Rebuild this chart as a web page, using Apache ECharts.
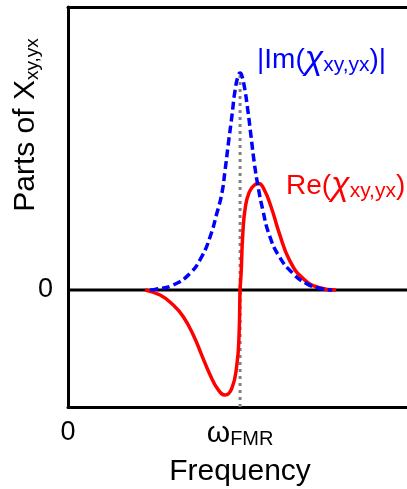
<!DOCTYPE html>
<html>
<head>
<meta charset="utf-8">
<script src="https://cdn.jsdelivr.net/npm/echarts@6/dist/echarts.min.js"></script>
<style>
html,body{margin:0;padding:0;background:#fff;}
#chart{width:407px;height:489px;}
</style>
</head>
<body>
<div id="chart"></div>
<script>
// Frequency axis: 0 .. 1.97 (omega_FMR = 1); value axis: zero line at 0
const xTickValues = [0, 1];
const xTickLabels = ['0', '{w|ω}{s|FMR}'];
const yTickValues = [0];
const yTickLabels = ['0'];

// |Im(chi)| (blue dashed)
const imX = [0.477, 0.506, 0.612, 0.709, 0.777, 0.826, 0.865, 0.894, 0.913, 0.932, 0.952, 0.971, 0.990, 1.000, 1.009, 1.025, 1.045, 1.064, 1.083, 1.103, 1.132, 1.170, 1.228, 1.306, 1.384, 1.461, 1.535];
const imY = [0, 0.006, 0.043, 0.143, 0.285, 0.456, 0.656, 0.826, 1.026, 1.254, 1.481, 1.709, 1.838, 1.855, 1.838, 1.738, 1.538, 1.310, 1.083, 0.897, 0.684, 0.470, 0.285, 0.143, 0.057, 0.015, 0];

// Re(chi) (red solid)
const reX = [0.448, 0.535, 0.612, 0.670, 0.728, 0.777, 0.826, 0.874, 0.913, 0.952, 0.981, 0.994, 1.000, 1.006, 1.016, 1.031, 1.054, 1.083, 1.108, 1.141, 1.180, 1.228, 1.287, 1.365, 1.461, 1.558];
const reY = [0, -0.043, -0.128, -0.228, -0.385, -0.556, -0.726, -0.855, -0.897, -0.840, -0.641, -0.385, 0, 0.143, 0.485, 0.712, 0.840, 0.897, 0.910, 0.855, 0.712, 0.485, 0.256, 0.100, 0.020, 0];

// omega_FMR marker line and zero line
const markerX = [1, 1];
const markerY = [-1, 1.855];
const zeroX = [0, 1.97];
const zeroY = [0, 0];

const zip = (a, b) => a.map((v, i) => [v, b[i]]);
const FONT = 'Liberation Sans, Arial, Helvetica, sans-serif';

const chart = echarts.init(document.getElementById('chart'), null, {renderer: 'canvas'});
chart.setOption({
  animation: false,
  backgroundColor: '#ffffff',
  grid: {left: 68, top: 7, right: 0, bottom: 82, containLabel: false},
  xAxis: [{
    type: 'value', min: 0, max: 1.97, position: 'bottom',
    axisLine: {show: true, onZero: false, lineStyle: {color: '#000', width: 3}},
    axisTick: {show: false},
    splitLine: {show: false},
    axisLabel: {
      show: true, customValues: xTickValues, margin: 12,
      formatter: (v) => xTickLabels[xTickValues.indexOf(v)] || '',
      color: '#000', fontFamily: FONT, fontSize: 27,
      rich: {
        w: {fontFamily: FONT, fontSize: 30, color: '#000', lineHeight: 30, verticalAlign: 'middle'},
        s: {fontFamily: FONT, fontSize: 20, color: '#000', lineHeight: 14, verticalAlign: 'bottom'}
      }
    }
  }, {
    type: 'value', min: 0, max: 1.97, position: 'top',
    axisLine: {show: true, onZero: false, lineStyle: {color: '#000', width: 3}},
    axisTick: {show: false}, axisLabel: {show: false}, splitLine: {show: false}
  }],
  yAxis: {
    type: 'value', min: -1, max: 2.42,
    axisLine: {show: true, onZero: false, lineStyle: {color: '#000', width: 3}},
    axisTick: {show: false},
    splitLine: {show: false},
    axisLabel: {
      show: true, customValues: yTickValues, margin: 15,
      formatter: (v) => yTickLabels[yTickValues.indexOf(v)] || '',
      color: '#000', fontFamily: FONT, fontSize: 27
    }
  },
  series: [
    {type: 'line', data: zip(zeroX, zeroY), symbol: 'none', lineStyle: {color: '#000', width: 3}, z: 2},
    {type: 'line', data: zip(markerX, markerY), symbol: 'none', lineStyle: {color: '#808080', width: 3, type: [3, 4], cap: 'butt'}, z: 3},
    {type: 'line', data: zip(reX, reY), symbol: 'none', smooth: 0.5, lineStyle: {color: '#ff0000', width: 3.5}, z: 4},
    {type: 'line', data: zip(imX, imY), symbol: 'none', smooth: 0.5, lineStyle: {color: '#0000ff', width: 3.5, type: [8, 4], cap: 'butt'}, z: 5}
  ],
  graphic: [
    {
      type: 'text', x: 26, y: 125, rotation: Math.PI / 2,
      style: {
        text: 'Parts of {c|Χ}{s|xy,yx}', fill: '#000', font: '30px ' + FONT,
        align: 'center', verticalAlign: 'middle',
        rich: {
          c: {fontFamily: FONT, fontSize: 30, fill: '#000', lineHeight: 32, verticalAlign: 'middle'},
          s: {fontFamily: FONT, fontSize: 19, fill: '#000', lineHeight: 14, verticalAlign: 'bottom'}
        }
      }
    },
    {
      type: 'text', x: 240, y: 472,
      style: {text: 'Frequency', fill: '#000', font: '30px ' + FONT, align: 'center', verticalAlign: 'middle'}
    },
    {
      type: 'text', x: 257, y: 60,
      style: {
        text: '|Im({c|χ}{s|xy,yx})|', fill: '#0000ff', font: '28px ' + FONT,
        align: 'left', verticalAlign: 'middle',
        rich: {
          c: {fontFamily: FONT, fontSize: 34, fontStyle: 'italic', fill: '#0000ff', lineHeight: 32, verticalAlign: 'middle'},
          s: {fontFamily: FONT, fontSize: 21, fill: '#0000ff', lineHeight: 14, verticalAlign: 'bottom'}
        }
      }
    },
    {
      type: 'text', x: 286, y: 186,
      style: {
        text: 'Re({c|χ}{s|xy,yx})', fill: '#ff0000', font: '28px ' + FONT,
        align: 'left', verticalAlign: 'middle',
        rich: {
          c: {fontFamily: FONT, fontSize: 34, fontStyle: 'italic', fill: '#ff0000', lineHeight: 32, verticalAlign: 'middle'},
          s: {fontFamily: FONT, fontSize: 21, fill: '#ff0000', lineHeight: 14, verticalAlign: 'bottom'}
        }
      }
    }
  ]
});
</script>
</body>
</html>
